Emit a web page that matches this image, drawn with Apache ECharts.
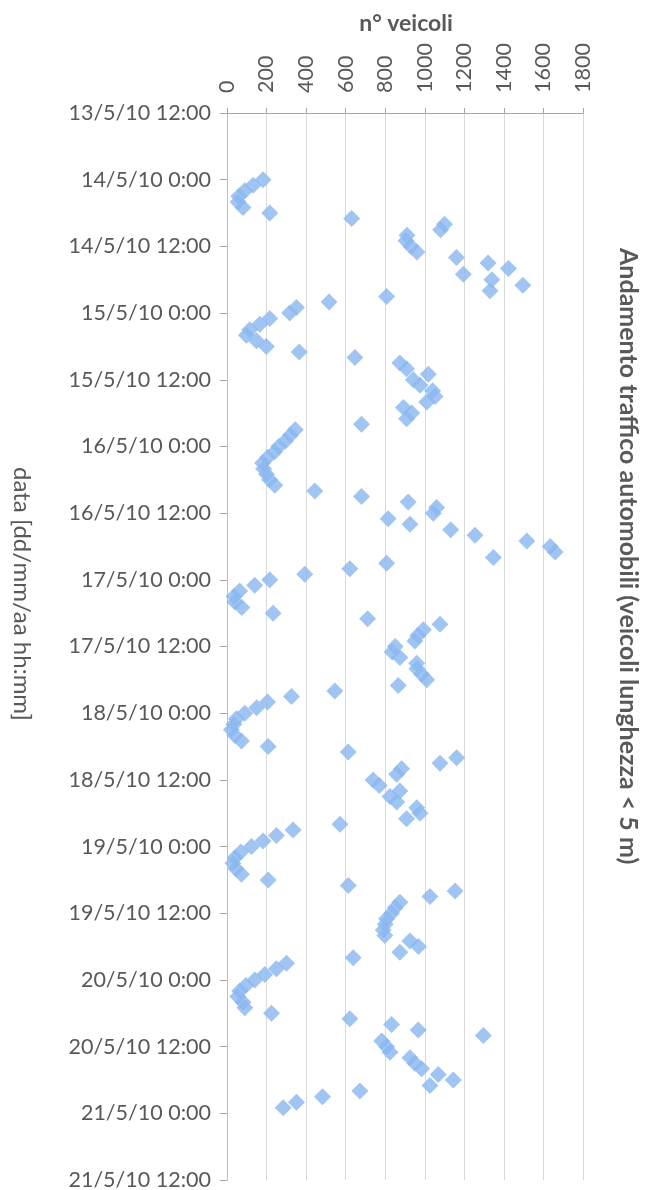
<!DOCTYPE html>
<html>
<head>
<meta charset="utf-8">
<title>Andamento traffico automobili</title>
<script src="https://cdn.jsdelivr.net/npm/echarts@6/dist/echarts.min.js"></script>
<style>
  html, body { margin: 0; padding: 0; background: #fff; }
  #chart { width: 656px; height: 1190px; }
</style>
</head>
<body>
<div id="chart"></div>
<script>
// veicoli per ora (0:00 ... 23:00), un array per giorno
const dayLabels = ['14/5/10', '15/5/10', '16/5/10', '17/5/10', '18/5/10', '19/5/10', '20/5/10']
const v14 = [182, 132, 90, 60, 56, 81, 216, 630, 1100, 1080, 910, 905, 930, 960, 1160, 1320, 1423, 1195, 1339, 1496, 1330, 807, 516, 351]
const v15 = [317, 216, 166, 115, 98, 149, 199, 365, 647, 874, 908, 1018, 942, 976, 1040, 1052, 1010, 892, 934, 908, 680, 345, 320, 295]
const v16 = [262, 240, 205, 180, 185, 200, 215, 242, 444, 680, 916, 1060, 1043, 815, 925, 1131, 1254, 1516, 1634, 1659, 1347, 807, 621, 393]
const v17 = [216, 140, 64, 35, 40, 75, 233, 711, 1077, 993, 965, 950, 850, 835, 874, 959, 960, 984, 1010, 866, 545, 326, 205, 150]
const v18 = [90, 48, 35, 22, 40, 73, 208, 613, 1161, 1077, 883, 858, 739, 770, 874, 824, 858, 959, 976, 908, 571, 334, 250, 182]
const v19 = [124, 70, 40, 30, 45, 73, 208, 613, 1153, 1026, 874, 850, 832, 807, 800, 790, 798, 925, 968, 874, 638, 301, 250, 191]
const v20 = [140, 95, 64, 55, 81, 90, 225, 621, 832, 967, 1296, 782, 807, 824, 925, 950, 984, 1068, 1144, 1026, 672, 483, 351, 284]
const dailyValues = [v14, v15, v16, v17, v18, v19, v20]

const valueTicks = [0, 200, 400, 600, 800, 1000, 1200, 1400, 1600, 1800]

const HOUR = 3600 * 1000
const tStart = Date.UTC(2010, 4, 13, 12) // 13/5/10 12:00
const tEnd = Date.UTC(2010, 4, 21, 12) // 21/5/10 12:00

function parseDay(lbl) {
  const p = lbl.split('/')
  return Date.UTC(2000 + Number(p[2]), Number(p[1]) - 1, Number(p[0]))
}

const points = []
dailyValues.forEach((arr, i) => {
  const t0 = parseDay(dayLabels[i])
  arr.forEach((v, h) => {
    points.push([v, t0 + h * HOUR])
  })
})

function fmtDate(ms) {
  const d = new Date(ms)
  return d.getUTCDate() + '/' + (d.getUTCMonth() + 1) + '/' + String(d.getUTCFullYear() % 100).padStart(2, '0') +
    ' ' + d.getUTCHours() + ':' + String(d.getUTCMinutes()).padStart(2, '0')
}

const chart = echarts.init(document.getElementById('chart'), null, { renderer: 'canvas' })
const textColor = '#595959'
const font = 'Lato, "Open Sans", sans-serif'

chart.setOption({
  animation: false,
  backgroundColor: '#fff',
  grid: {
    left: 227,
    right: 73,
    top: 113,
    bottom: 10,
    outerBoundsMode: 'none'
  },
  graphic: [
    { // titolo del grafico, ruotato
      type: 'text',
      x: 628,
      y: 248,
      rotation: -Math.PI / 2,
      style: {
        text: 'Andamento traffico automobili (veicoli lunghezza < 5 m)',
        fill: textColor,
        font: 'bold 25px ' + font,
        align: 'left',
        verticalAlign: 'middle'
      }
    },
    { // titolo asse tempo
      type: 'text',
      x: 22,
      y: 467,
      rotation: -Math.PI / 2,
      style: {
        text: 'data [dd/mm/aa hh:mm]',
        fill: textColor,
        font: '24px ' + font,
        align: 'left',
        verticalAlign: 'middle'
      }
    },
    { // titolo asse valori
      type: 'text',
      x: 406,
      y: 24,
      style: {
        text: 'n° veicoli',
        fill: textColor,
        font: 'bold 23px ' + font,
        align: 'center',
        verticalAlign: 'middle'
      }
    }
  ],
  xAxis: {
    type: 'value',
    position: 'top',
    min: valueTicks[0],
    max: valueTicks[valueTicks.length - 1],
    interval: valueTicks[1] - valueTicks[0],
    axisLine: { show: true, lineStyle: { color: '#a6a6a6', width: 1 } },
    axisTick: { show: true, length: 5, lineStyle: { color: '#a6a6a6' } },
    splitLine: { show: true, lineStyle: { color: '#d9d9d9', width: 1 } },
    axisLabel: {
      rotate: -90,
      margin: 20,
      color: textColor,
      fontFamily: font,
      fontSize: 21.5,
      formatter: v => String(v)
    }
  },
  yAxis: {
    type: 'value',
    inverse: true,
    min: tStart,
    max: tEnd,
    interval: 12 * HOUR,
    axisLine: { show: true, lineStyle: { color: '#bfbfbf', width: 1 } },
    axisTick: { show: true, length: 7, lineStyle: { color: '#a6a6a6' } },
    splitLine: { show: false },
    axisLabel: {
      margin: 16,
      color: textColor,
      fontFamily: font,
      fontSize: 21.5,
      formatter: v => fmtDate(v)
    }
  },
  series: [{
    name: 'veicoli',
    type: 'scatter',
    symbol: 'diamond',
    symbolSize: 17,
    itemStyle: { color: '#8ab6f0' },
    data: points
  }]
})
</script>
</body>
</html>
